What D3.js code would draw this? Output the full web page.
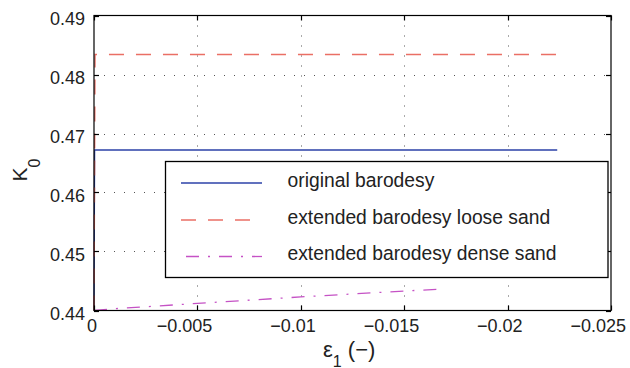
<!DOCTYPE html>
<html>
<head>
<meta charset="utf-8">
<script src="https://cdn.jsdelivr.net/npm/d3@7"></script>
<style>
  body { margin: 0; background: #fff; }
  text { font-family: "Liberation Sans", Arial, Helvetica, sans-serif; fill: #222; }
</style>
</head>
<body>
<script>
var W = 630, H = 368;
var margin = {left: 94, right: 19, top: 15.5, bottom: 57.5};

// data
var strainOriginal = [0, -0.00003, -0.0224];
var k0Original = [0.44, 0.4672, 0.4672];
var strainLoose = [0, -0.00005, -0.0224];
var k0Loose = [0.44, 0.4834, 0.4834];
var strainDense = [0, -0.001, -0.005, -0.01, -0.015, -0.0167];
var k0Dense = [0.44, 0.4403, 0.4412, 0.4423, 0.4433, 0.4436];

var xTicks = [0, -0.005, -0.01, -0.015, -0.02, -0.025];
var yTicks = [0.44, 0.45, 0.46, 0.47, 0.48, 0.49];
var legendNames = ['original barodesy', 'extended barodesy loose sand', 'extended barodesy dense sand'];

var series = [
  {x: strainOriginal, y: k0Original, color: '#2c42a8', dash: null, width: 1.3},
  {x: strainLoose, y: k0Loose, color: '#ea6f65', dash: '15,12', width: 1.4},
  {x: strainDense, y: k0Dense, color: '#c552c5', dash: '13,9,2,9', width: 1.3}
];

var svg = d3.select('body').append('svg').attr('width', W).attr('height', H);

var x = d3.scaleLinear().domain([0, -0.025]).range([margin.left, W - margin.right]);
var y = d3.scaleLinear().domain([0.44, 0.49]).range([H - margin.bottom, margin.top]);

var fmt = function(d) { return d === 0 ? '0' : String(d).replace('-', '\u2212'); };

// grid
var grid = svg.append('g').attr('stroke', '#555').attr('stroke-width', 1).attr('stroke-dasharray', '1,9');
xTicks.slice(1, -1).forEach(function(t) {
  grid.append('line').attr('x1', Math.round(x(t)) + 0.5).attr('x2', Math.round(x(t)) + 0.5)
    .attr('y1', y(0.49)).attr('y2', y(0.44));
});
yTicks.slice(1, -1).forEach(function(t) {
  grid.append('line').attr('y1', Math.round(y(t)) + 0.5).attr('y2', Math.round(y(t)) + 0.5)
    .attr('x1', x(0)).attr('x2', x(-0.025));
});

// lines
var line = function(s) {
  return d3.line().x(function(d, i) { return x(s.x[i]); }).y(function(d) { return y(d); })(s.y);
};
series.forEach(function(s) {
  svg.append('path').attr('d', line(s)).attr('fill', 'none')
    .attr('stroke', s.color).attr('stroke-width', s.width)
    .attr('stroke-dasharray', s.dash);
});

// axes (MATLAB style: ticks inside, mirrored)
var tl = 5;
var ax = svg.append('g').attr('stroke', '#000').attr('stroke-width', 1.2);
ax.append('rect').attr('x', x(0)).attr('y', y(0.49))
  .attr('width', x(-0.025) - x(0)).attr('height', y(0.44) - y(0.49)).attr('fill', 'none');
xTicks.forEach(function(t) {
  var px = Math.round(x(t)) + 0.5;
  ax.append('line').attr('x1', px).attr('x2', px).attr('y1', y(0.44)).attr('y2', y(0.44) - tl);
  ax.append('line').attr('x1', px).attr('x2', px).attr('y1', y(0.49)).attr('y2', y(0.49) + tl);
});
yTicks.forEach(function(t) {
  var py = Math.round(y(t)) + 0.5;
  ax.append('line').attr('y1', py).attr('y2', py).attr('x1', x(0)).attr('x2', x(0) + tl);
  ax.append('line').attr('y1', py).attr('y2', py).attr('x1', x(-0.025)).attr('x2', x(-0.025) - tl);
});

svg.selectAll('.xt').data(xTicks).enter().append('text')
  .attr('x', function(d) { return d === 0 ? x(d) - 2 : x(d) + 15; })
  .attr('y', y(0.44) + 21.5)
  .attr('text-anchor', function(d) { return d === 0 ? 'middle' : 'end'; })
  .attr('font-size', 18).text(fmt);
svg.selectAll('.yt').data(yTicks).enter().append('text')
  .attr('x', x(0) - 9).attr('y', function(d) { return y(d) + 9; })
  .attr('text-anchor', 'end').attr('font-size', 18).text(fmt);

// axis labels
var xl = svg.append('text').attr('x', 323).attr('y', 356.5).attr('font-size', 22);
xl.append('tspan').text('\u03b5');
xl.append('tspan').attr('font-size', 16).attr('dy', 10).text('1');
xl.append('tspan').attr('dy', -10).text(' (\u2212)');

var yl = svg.append('text').attr('transform', 'translate(27,181.5) rotate(-90)').attr('font-size', 21);
yl.append('tspan').text('K');
yl.append('tspan').attr('font-size', 16).attr('dy', 13).text('0');

// legend
var lg = svg.append('g');
lg.append('rect').attr('x', 165.5).attr('y', 161.5).attr('width', 442.5).attr('height', 116)
  .attr('fill', '#fff').attr('stroke', '#000').attr('stroke-width', 1.3);
var rowY = [183, 220, 256.5];
legendNames.forEach(function(name, i) {
  var s = series[i];
  lg.append('line').attr('x1', 181).attr('x2', 262).attr('y1', rowY[i]).attr('y2', rowY[i])
    .attr('stroke', s.color).attr('stroke-width', s.width).attr('stroke-dasharray', s.dash)
    .attr('stroke-dashoffset', i === 2 ? 28 : 0);
  lg.append('text').attr('x', 287.5).attr('y', rowY[i] + 3.5).attr('font-size', 19.3).text(name);
});
</script>
</body>
</html>
